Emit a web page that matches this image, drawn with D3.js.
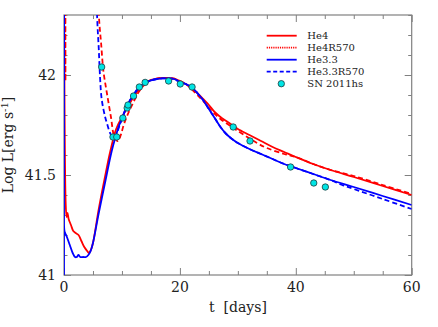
<!DOCTYPE html>
<html><head><meta charset="utf-8">
<script src="https://cdn.jsdelivr.net/npm/d3@7"></script>
<style>body{margin:0;background:#fff}svg{display:block}text{font-family:"DejaVu Serif",serif;fill:#222}</style>
</head><body><svg id="c" width="438" height="327"></svg>
<script>
// He4 (red solid)
const he4T = [0,0.3,0.45,0.6,0.8,1.2,1.6,2.0,2.5,3.0,3.5,4.0,4.3,4.7,5.0,6,7,8,9,10,11,12,13,14,15,16,17,18,19,20,21,22,23,24,25,26,27,28,29,30,32,34,36,38,40,43,46,50,55,60];
const he4L = [42.6,41.35,41.29,41.31,41.28,41.25,41.22,41.21,41.2,41.17,41.14,41.12,41.11,41.13,41.16,41.33,41.48,41.62,41.73,41.79,41.84,41.89,41.93,41.96,41.975,41.982,41.985,41.985,41.982,41.97,41.955,41.935,41.91,41.88,41.85,41.815,41.79,41.77,41.75,41.73,41.70,41.67,41.64,41.615,41.59,41.555,41.525,41.49,41.445,41.40];
// He4R570 (red dashed)
const he4rT = [0.2,0.25,0.3,1,5,5.9,6.1,6.4,6.8,7.4,8.1,8.7,9.3,9.8,10.3,11.1,12,13,14,15,16,17,18,19,20,21,22,23,24,25.5,27,28.7,30,33.3,35,38,40,43,46,50,55,60];
const he4rL = [42.6,41.97,42.6,43.5,43.5,42.4,42.26,42.16,42.02,41.91,41.79,41.69,41.67,41.70,41.75,41.81,41.865,41.92,41.955,41.975,41.982,41.985,41.985,41.982,41.97,41.955,41.93,41.9,41.87,41.82,41.78,41.745,41.72,41.66,41.635,41.605,41.59,41.555,41.525,41.495,41.45,41.405];
// He3.3 (blue solid)
const he33T = [0,0.03,0.08,0.2,0.5,1.0,1.5,1.9,2.2,2.5,2.8,3.3,3.8,4.2,4.6,5.0,6,7,8,8.5,9,9.4,10,11,12,13,14,15,16,17,18,19,20,21,22,23,24,25,26,27,28,29,30,32,34,36,38,40,43,46,50,55,60];
const he33L = [41.0,42.6,41.22,41.21,41.19,41.15,41.11,41.09,41.09,41.10,41.09,41.09,41.09,41.10,41.12,41.16,41.31,41.45,41.59,41.65,41.70,41.74,41.78,41.855,41.90,41.94,41.96,41.973,41.98,41.983,41.983,41.98,41.965,41.955,41.94,41.91,41.875,41.83,41.785,41.74,41.705,41.68,41.66,41.63,41.605,41.58,41.555,41.535,41.505,41.475,41.44,41.395,41.35];
// He3.3R570 (blue dashed)
const he33rT = [1,5.4,5.6,5.76,6.0,6.2,6.5,7.1,7.5,7.95,8.5,9.0,9.5,10,11,12,13,14,15,16,17,18,19,20,21,22,23,24,25,26,27,28,29,30,32,34,36,38,40,43,46,48,50,55,60];
const he33rL = [43.5,42.6,42.4,42.26,42.13,42.0,41.88,41.79,41.75,41.71,41.685,41.70,41.74,41.78,41.855,41.90,41.94,41.96,41.973,41.98,41.983,41.983,41.98,41.965,41.955,41.94,41.91,41.875,41.83,41.785,41.74,41.705,41.68,41.66,41.63,41.605,41.58,41.555,41.535,41.505,41.475,41.45,41.43,41.38,41.33];
// SN 2011hs observations
const obsT = [6.5,8.45,9.1,10.15,10.9,11.05,12.0,13.0,14.0,18.05,20.06,22.1,29.2,32.1,39.1,43.1,45.1];
const obsL = [42.04,41.69,41.69,41.785,41.835,41.85,41.895,41.94,41.963,41.97,41.955,41.94,41.74,41.67,41.54,41.46,41.44];

const xTicksMajor = [0,20,40,60];
const yTickLabels = [41,41.5,42];
const legendNames = ["He4","He4R570","He3.3","He3.3R570","SN 2011hs"];

const W=438,H=327, L0=64, R0=411.7, T0=15, B0=275;
const svg=d3.select("#c");
const x=d3.scaleLinear().domain([0,60]).range([L0,R0]);
const y=d3.scaleLinear().domain([41,42.3]).range([B0,T0]);

svg.append("defs").append("clipPath").attr("id","clip").append("rect")
  .attr("x",L0).attr("y",T0).attr("width",R0-L0).attr("height",B0-T0);

const frame="#808080";
function ax(gen, tr){ return svg.append("g").attr("transform",tr).call(gen); }
const xMinor=d3.range(0,61,5), yMinor=d3.range(41,42.31,0.1);
const axes=[
  ax(d3.axisBottom(x).tickValues(xMinor.filter(v=>v%20)).tickSize(-4).tickFormat(""),`translate(0,${B0})`),
  ax(d3.axisBottom(x).tickValues(xTicksMajor).tickSize(-7).tickFormat(""),`translate(0,${B0})`),
  ax(d3.axisTop(x).tickValues(xMinor.filter(v=>v%20)).tickSize(-4).tickFormat(""),`translate(0,${T0})`),
  ax(d3.axisTop(x).tickValues(xTicksMajor).tickSize(-7).tickFormat(""),`translate(0,${T0})`),
  ax(d3.axisLeft(y).tickValues(yMinor).tickSize(-3.5).tickFormat(""),`translate(${L0},0)`),
  ax(d3.axisLeft(y).tickValues(yTickLabels).tickSize(-7).tickFormat(""),`translate(${L0},0)`),
  ax(d3.axisRight(y).tickValues(yMinor).tickSize(-3.5).tickFormat(""),`translate(${R0},0)`),
  ax(d3.axisRight(y).tickValues(yTickLabels).tickSize(-7).tickFormat(""),`translate(${R0},0)`)
];
axes.forEach(g=>{g.selectAll("path").remove();g.selectAll("line").attr("stroke",frame).attr("stroke-width",1);});
svg.append("rect").attr("x",L0).attr("y",T0).attr("width",R0-L0).attr("height",B0-T0)
  .attr("fill","none").attr("stroke",frame).attr("stroke-width",1.2);

svg.append("g").selectAll("text").data(xTicksMajor).join("text")
  .attr("x",d=>x(d)).attr("y",292).attr("text-anchor","middle").attr("font-size",14).text(d=>d);
svg.append("g").selectAll("text").data(yTickLabels).join("text")
  .attr("x",56).attr("y",d=>y(d)+5).attr("text-anchor","end").attr("font-size",14).text(d=>d);

svg.append("text").attr("x",238).attr("y",312).attr("text-anchor","middle").attr("font-size",14)
  .attr("xml:space","preserve").text("t  [days]");
const yl=svg.append("text").attr("transform","translate(13,145) rotate(-90)").attr("text-anchor","middle").attr("font-size",14);
yl.append("tspan").text("Log L[erg s");
yl.append("tspan").attr("dy",-5).attr("font-size",10).text("-1");
yl.append("tspan").attr("dy",5).text("]");

const line=d3.line().x(d=>x(d[0])).y(d=>y(d[1])).curve(d3.curveCatmullRom.alpha(0.5));
const g=svg.append("g").attr("clip-path","url(#clip)");
const series=[
  {t:he4T,l:he4L,c:"#ff0000",dash:null},
  {t:he4rT,l:he4rL,c:"#ff0000",dash:"5,3"},
  {t:he33T,l:he33L,c:"#0000ff",dash:null},
  {t:he33rT,l:he33rL,c:"#0000ff",dash:"5,3"}
];
series.forEach(s=>{
  g.append("path").datum(s.t.map((t,i)=>[t,s.l[i]])).attr("d",line)
   .attr("fill","none").attr("stroke",s.c).attr("stroke-width",1.8).attr("stroke-dasharray",s.dash);
});
g.append("g").selectAll("circle").data(obsT.map((t,i)=>[t,obsL[i]])).join("circle")
  .attr("cx",d=>x(d[0])).attr("cy",d=>y(d[1])).attr("r",3.2)
  .attr("fill","#00e5e5").attr("stroke","#1e3c3c").attr("stroke-width",0.8);

const lg=svg.append("g");
const lstyle=[{c:"#ff0000",d:null},{c:"#ff0000",d:"1.2,1"},{c:"#0000ff",d:null},{c:"#0000ff",d:"4,2.5"}];
legendNames.forEach((n,i)=>{
  const yy=35.7+12*i;
  if(i<4){
    lg.append("line").attr("x1",266.7).attr("x2",296.7).attr("y1",yy).attr("y2",yy)
      .attr("stroke",lstyle[i].c).attr("stroke-width",1.8).attr("stroke-dasharray",lstyle[i].d);
  } else {
    lg.append("circle").attr("cx",281.3).attr("cy",yy).attr("r",3.2)
      .attr("fill","#00e5e5").attr("stroke","#1e3c3c").attr("stroke-width",0.8);
  }
  lg.append("text").attr("x",307.3).attr("y",yy+3.6).attr("font-size",10).attr("fill","#333").text(n);
});
</script></body></html>
